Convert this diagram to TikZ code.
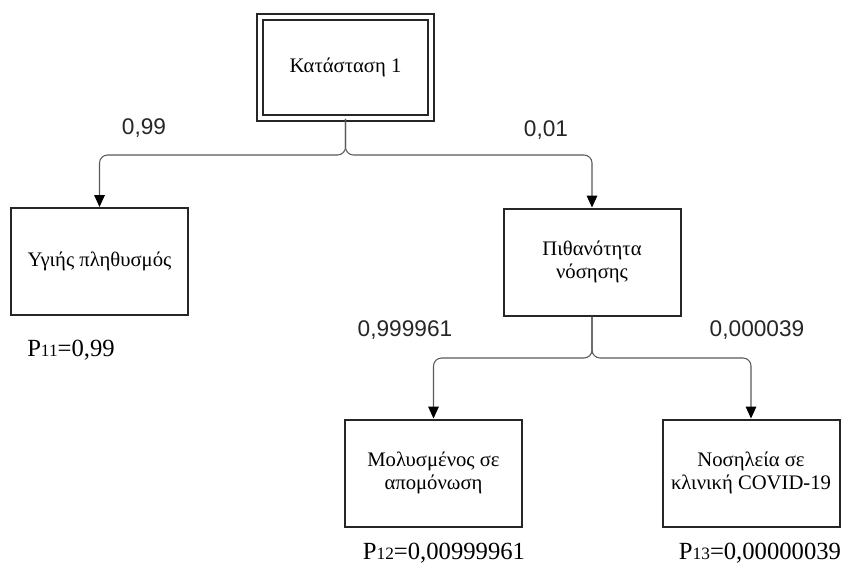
\documentclass[tikz,border=0pt]{standalone}
\usepackage{fontspec}
\setmainfont{Liberation Serif}
\newfontfamily\numfont{Liberation Sans}
\usetikzlibrary{arrows.meta}
\begin{document}
\begin{tikzpicture}[x=0.75pt,y=-0.75pt,
  statebox/.style={draw=black!85, line width=1.5pt, minimum width=132.75pt,
    minimum height=80.25pt, align=center, inner sep=2pt,
    font=\fontsize{15.5}{17.5}\selectfont},
  rootbox/.style={draw=black!85, line width=1.4pt, double=white,
    double distance=3pt, minimum width=128pt, minimum height=75.75pt,
    align=center, font=\fontsize{15.5}{17.5}\selectfont},
  branch/.style={draw=black!65, line width=0.8pt, rounded corners=6pt,
    -{Triangle[length=9pt,width=8pt,color=black]}},
  problabel/.style={font=\numfont\fontsize{17}{20}\selectfont, inner sep=0pt,
    text=black!85},
  finallabel/.style={inner sep=0pt}
]
\useasboundingbox (0,0) rectangle (848,572);

% states
\node[rootbox]  (root) at (345.5,67.5) {Κατάσταση 1};
\node[statebox] (healthy) at (99.5,261.5) {Υγιής πληθυσμός};
\node[statebox] (ill) at (592,262) {Πιθανότητα\\νόσησης};
\node[statebox] (isol) at (433.5,473) {Μολυσμένος σε\\απομόνωση};
\node[statebox] (clinic) at (751,473) {Νοσηλεία σε\\κλινική COVID-19};

% branch points
\coordinate (j1) at (345.5,155);
\coordinate (j2) at (592,358);

% connectors
\draw[branch] (root.south) -- (j1) -| (healthy.north);
\draw[branch] (root.south) -- (j1) -| (ill.north);
\draw[branch] (ill.south) -- (j2) -| (isol.north);
\draw[branch] (ill.south) -- (j2) -| (clinic.north);

% transition probabilities
\node[problabel] (p1) at (144,128) {0,99};
\node[problabel] (p2) at (546,130) {0,01};
\node[problabel] (p3) at (405,330) {0,999961};
\node[problabel] (p4) at (757,330) {0,000039};

% resulting probabilities
\newcommand\pval[2]{{\fontsize{18.5}{20}\selectfont P}{\fontsize{13}{14}\selectfont #1}{\fontsize{18.5}{20}\selectfont =#2}}
\node[finallabel] (r1) at (71,350) {\pval{11}{0,99}};
\node[finallabel] (r2) at (444,553) {\pval{12}{0,00999961}};
\node[finallabel] (r3) at (760,553) {\pval{13}{0,00000039}};
\end{tikzpicture}
\end{document}
